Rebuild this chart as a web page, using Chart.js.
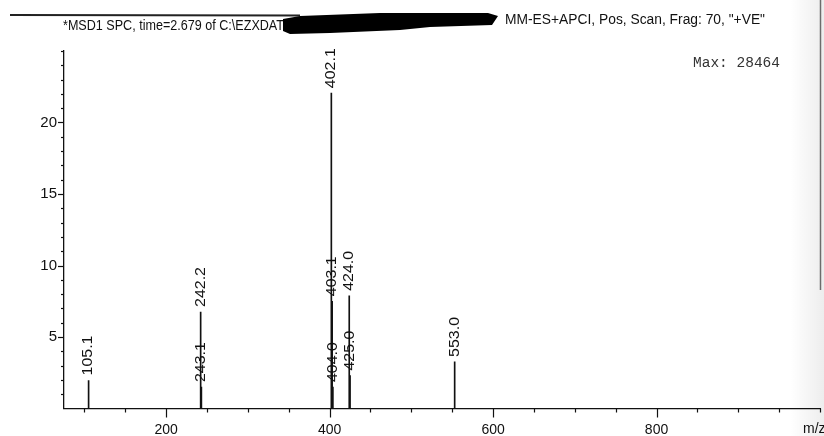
<!DOCTYPE html>
<html><head><meta charset="utf-8">
<script src="https://cdn.jsdelivr.net/npm/chart.js@4.4.1/dist/chart.umd.min.js"></script>
<style>html,body{margin:0;padding:0;background:#fff;overflow:hidden}#wrap{position:relative;width:824px;height:436px}</style>
</head><body><div id="wrap"><canvas id="c" width="824" height="436"></canvas></div>
<script>
// ---- data ----
const mzValues   = [105.1, 242.2, 243.1, 402.1, 403.1, 404.0, 424.0, 425.0, 553.0];
const abundances = [1.96, 6.75, 1.5, 22.05, 7.5, 1.5, 7.88, 2.3, 3.26];
const peakLabels = ['105.1', '242.2', '243.1', '402.1', '403.1', '404.0', '424.0', '425.0', '553.0'];
const xTickLabels = [200, 400, 600, 800];
const yTickLabels = [5, 10, 15, 20];
const headerLeft  = '*MSD1 SPC, time=2.679 of C:\\EZXDAT';
const headerRight = 'MM-ES+APCI, Pos, Scan, Frag: 70, "+VE"';
const maxText = 'Max: 28464';
const xAxisTitle = 'm/z';

const FONT = "'Liberation Sans', Arial, sans-serif";

function fitText(ctx, txt, x, y, targetW) {
  const w = ctx.measureText(txt).width;
  ctx.save();
  ctx.translate(x, y);
  ctx.scale(targetW / w, 1);
  ctx.fillText(txt, 0, 0);
  ctx.restore();
}

const decor = {
  id: 'decor',
  beforeDraw(chart) {
    const ctx = chart.ctx;
    ctx.save();
    ctx.fillStyle = '#fff';
    ctx.fillRect(0, 0, chart.width, chart.height);
    const g = ctx.createLinearGradient(790, 0, 824, 0);
    g.addColorStop(0, 'rgba(0,0,0,0)');
    g.addColorStop(1, 'rgba(0,0,0,0.07)');
    ctx.fillStyle = g;
    ctx.fillRect(790, 0, 34, 436);
    ctx.restore();
  },
  afterDraw(chart) {
    const { ctx, scales: { x, y }, chartArea: a } = chart;
    ctx.save();
    ctx.strokeStyle = '#111';
    ctx.lineWidth = 1.2;
    for (let v = 100; v <= 1000; v += 50) {
      const px = Math.round(x.getPixelForValue(v)) + 0.5;
      const len = xTickLabels.includes(v) ? 9 : 4;
      ctx.beginPath(); ctx.moveTo(px, a.bottom); ctx.lineTo(px, a.bottom + len); ctx.stroke();
    }
    for (let v = 1; v <= 25; v += 1) {
      const py = Math.round(y.getPixelForValue(v)) + 0.5;
      const len = yTickLabels.includes(v) ? 6 : 3;
      ctx.beginPath(); ctx.moveTo(a.left - len, py); ctx.lineTo(a.left, py); ctx.stroke();
    }
    const meta = chart.getDatasetMeta(0);
    ctx.fillStyle = '#111';
    ctx.font = '14px ' + FONT;
    ctx.textAlign = 'left';
    ctx.textBaseline = 'middle';
    meta.data.forEach((el, i) => {
      ctx.save();
      ctx.translate(el.x, el.y - 5);
      ctx.rotate(-Math.PI / 2);
      ctx.scale(1.14, 1);
      ctx.fillText(peakLabels[i], 0, 0);
      ctx.restore();
    });
    ctx.strokeStyle = '#222';
    ctx.lineWidth = 2;
    ctx.beginPath(); ctx.moveTo(10, 15); ctx.lineTo(300, 15.5); ctx.stroke();
    ctx.font = '14px ' + FONT;
    ctx.textBaseline = 'middle';
    fitText(ctx, headerLeft, 63, 26, 221);
    fitText(ctx, headerRight, 505, 20, 260);
    ctx.fillStyle = '#000';
    ctx.beginPath();
    ctx.moveTo(283, 19); ctx.lineTo(300, 16); ctx.lineTo(380, 13); ctx.lineTo(488, 13);
    ctx.lineTo(498, 16); ctx.lineTo(492, 25); ctx.lineTo(430, 27); ctx.lineTo(400, 30);
    ctx.lineTo(330, 33); ctx.lineTo(290, 34); ctx.lineTo(283, 31); ctx.closePath(); ctx.fill();
    ctx.fillStyle = '#333';
    ctx.font = '14px "Liberation Mono", monospace';
    fitText(ctx, maxText, 693, 63, 87);
    ctx.fillStyle = '#111';
    ctx.font = '14px ' + FONT;
    ctx.fillText(xAxisTitle, 803, 429);
    ctx.strokeStyle = 'rgba(0,0,0,0.55)';
    ctx.lineWidth = 1.5;
    ctx.beginPath(); ctx.moveTo(820.5, 0); ctx.lineTo(820.5, 290); ctx.stroke();
    ctx.restore();
  }
};

new Chart(document.getElementById('c'), {
  type: 'bar',
  data: {
    datasets: [{
      data: mzValues.map((m, i) => ({ x: m, y: abundances[i] })),
      backgroundColor: '#111',
      borderWidth: 0,
      barThickness: 1
    }]
  },
  options: {
    responsive: false,
    animation: false,
    devicePixelRatio: 1,
    layout: { padding: { top: 51, left: 0, right: 4, bottom: 0 } },
    plugins: { legend: { display: false }, tooltip: { enabled: false }, title: { display: false } },
    scales: {
      x: {
        type: 'linear',
        min: 75, max: 1000,
        offset: false,
        afterFit(s) { s.height = 27.5; },
        afterBuildTicks(s) { s.ticks = xTickLabels.map(v => ({ value: v })); },
        grid: { display: false, drawTicks: false },
        border: { display: true, color: '#111', width: 1.3 },
        ticks: { color: '#111', font: { family: FONT, size: 14 }, padding: 13, maxRotation: 0, autoSkip: false }
      },
      y: {
        type: 'linear',
        min: 0, max: 25,
        afterFit(s) { s.width = 64; },
        afterBuildTicks(s) { s.ticks = yTickLabels.map(v => ({ value: v })); },
        grid: { display: false, drawTicks: false },
        border: { display: true, color: '#111', width: 1.3 },
        ticks: { color: '#111', font: { family: FONT, size: 15 }, padding: 7, autoSkip: false }
      }
    }
  },
  plugins: [decor]
});
</script></body></html>
